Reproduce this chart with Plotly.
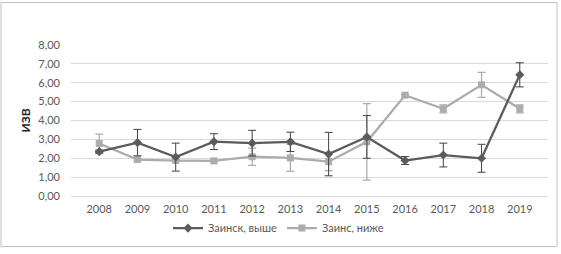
import plotly.graph_objects as go

years = ["2008", "2009", "2010", "2011", "2012", "2013", "2014", "2015", "2016", "2017", "2018", "2019"]
upper_name = "Заинск, выше"
upper_vals = [2.35, 2.83, 2.06, 2.88, 2.80, 2.87, 2.22, 3.13, 1.88, 2.17, 2.00, 6.42]
upper_err = [0.08, 0.70, 0.74, 0.42, 0.68, 0.51, 1.15, 1.13, 0.21, 0.63, 0.74, 0.64]
lower_name = "Заинс, ниже"
lower_vals = [2.78, 1.93, 1.88, 1.86, 2.08, 2.02, 1.82, 2.87, 5.34, 4.62, 5.89, 4.62]
lower_err = [0.50, 0.05, 0.05, 0.05, 0.46, 0.72, 0.48, 2.03, 0.05, 0.21, 0.66, 0.21]
y_title = "ИЗВ"

DARK = "#5b5b5b"
LIGHT = "#acacac"
TXT = "#595959"
FONT = "Lato"

fig = go.Figure()
fig.add_trace(go.Scatter(
    x=years, y=lower_vals, name=lower_name, mode="lines+markers",
    line=dict(color=LIGHT, width=2.25),
    marker=dict(symbol="square", size=7, color=LIGHT),
    error_y=dict(type="data", array=lower_err, visible=True, color=LIGHT, thickness=1.25, width=4),
    legendrank=2,
))
fig.add_trace(go.Scatter(
    x=years, y=upper_vals, name=upper_name, mode="lines+markers",
    line=dict(color=DARK, width=2.25),
    marker=dict(symbol="diamond", size=7, color=DARK),
    error_y=dict(type="data", array=upper_err, visible=True, color="#404040", thickness=1, width=4),
    legendrank=1,
))

# chart border
fig.add_shape(type="rect", xref="paper", yref="paper",
              x0=-0.1468, x1=1.0189, y0=-0.335, y1=1.281,
              line=dict(color="#bfbfbf", width=1), layer="above")

fig.update_layout(
    width=561, height=254,
    margin=dict(l=71, r=13, t=45, b=54),
    paper_bgcolor="white", plot_bgcolor="white",
    separators=", ",
    font=dict(family=FONT, size=11, color=TXT),
    showlegend=True,
    legend=dict(orientation="h", x=0.435, xanchor="center", y=-0.2125, yanchor="middle",
                font=dict(family=FONT, size=11, color=TXT), itemwidth=30,
                bgcolor="rgba(0,0,0,0)", tracegroupgap=0),
    xaxis=dict(type="category", showgrid=False, showline=True, linecolor="#d9d9d9", linewidth=1,
               ticks="", tickfont=dict(family=FONT, size=11, color=TXT), ticklabelstandoff=3,
               zeroline=False),
    yaxis=dict(range=[0, 8], dtick=1, tickformat=".2f", showgrid=True, gridcolor="#d9d9d9", gridwidth=1,
               zeroline=False, showline=False, ticks="", ticklabelstandoff=10,
               tickfont=dict(family=FONT, size=11, color=TXT),
               title=dict(text="<b>" + y_title + "</b>", font=dict(family=FONT, size=12, color="#262626"),
                          standoff=5)),
)

fig.write_html("out.html", config={"displayModeBar": False},
               post_script="document.body.style.margin='0';document.body.style.padding='0';")
